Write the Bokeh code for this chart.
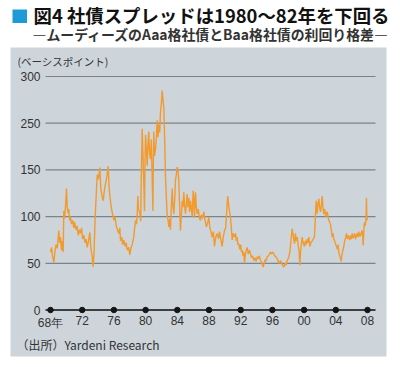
from bokeh.plotting import figure
from bokeh.models import Range1d, Label, ColumnDataSource
from bokeh.core.properties import value
from bokeh.embed import file_html
from bokeh.resources import INLINE

# ---- data ----
years = [
    1968.00, 1968.13, 1968.25, 1968.42, 1968.55, 1968.70, 1968.85, 1969.05, 1969.15, 1969.26,
    1969.38, 1969.50, 1969.60, 1969.68, 1969.78, 1969.90, 1970.02, 1970.10, 1970.20, 1970.30,
    1970.42, 1970.52, 1970.65, 1970.80, 1970.94, 1971.05, 1971.20, 1971.35, 1971.50, 1971.65,
    1971.79, 1971.92, 1972.05, 1972.20, 1972.35, 1972.50, 1972.63, 1972.80, 1972.96, 1973.10,
    1973.26, 1973.38, 1973.50, 1973.62, 1973.75, 1973.90, 1974.05, 1974.22, 1974.35, 1974.50,
    1974.65, 1974.80, 1974.94, 1975.10, 1975.28, 1975.40, 1975.55, 1975.66, 1975.80, 1976.00,
    1976.15, 1976.30, 1976.45, 1976.62, 1976.75, 1976.83, 1977.00, 1977.10, 1977.25, 1977.40,
    1977.55, 1977.68, 1977.88, 1978.00, 1978.15, 1978.30, 1978.51, 1978.60, 1978.73, 1978.85,
    1978.94, 1979.02, 1979.10, 1979.27, 1979.38, 1979.45, 1979.57, 1979.67, 1979.77, 1979.86,
    1979.93, 1979.99, 1980.10, 1980.20, 1980.30, 1980.40, 1980.50, 1980.62, 1980.72, 1980.83,
    1980.92, 1980.98, 1981.03, 1981.12, 1981.25, 1981.35, 1981.46, 1981.56, 1981.67, 1981.78,
    1981.88, 1981.98, 1982.09, 1982.20, 1982.30, 1982.40, 1982.51, 1982.62, 1982.73, 1982.85,
    1982.93, 1983.05, 1983.14, 1983.25, 1983.36, 1983.46, 1983.56, 1983.67, 1983.77, 1983.88,
    1983.98, 1984.10, 1984.19, 1984.30, 1984.40, 1984.50, 1984.62, 1984.72, 1984.82, 1984.92,
    1985.03, 1985.15, 1985.25, 1985.35, 1985.45, 1985.55, 1985.67, 1985.78, 1985.88, 1986.00,
    1986.08, 1986.17, 1986.30, 1986.40, 1986.51, 1986.65, 1986.80, 1986.93, 1987.05, 1987.20,
    1987.35, 1987.50, 1987.68, 1987.85, 1987.98, 1988.10, 1988.25, 1988.40, 1988.55, 1988.69,
    1988.85, 1989.03, 1989.20, 1989.32, 1989.45, 1989.56, 1989.66, 1989.80, 1989.96, 1990.10,
    1990.20, 1990.30, 1990.37, 1990.48, 1990.60, 1990.71, 1990.82, 1990.93, 1991.05, 1991.20,
    1991.34, 1991.45, 1991.55, 1991.65, 1991.76, 1991.88, 1992.00, 1992.10, 1992.19, 1992.30,
    1992.40, 1992.48, 1992.60, 1992.70, 1992.82, 1992.95, 1993.10, 1993.24, 1993.35, 1993.50,
    1993.65, 1993.80, 1993.95, 1994.08, 1994.20, 1994.35, 1994.50, 1994.65, 1994.84, 1994.95,
    1995.10, 1995.20, 1995.34, 1995.50, 1995.65, 1995.76, 1995.90, 1996.05, 1996.18, 1996.30,
    1996.45, 1996.60, 1996.75, 1996.90, 1997.02, 1997.15, 1997.30, 1997.44, 1997.60, 1997.75,
    1997.87, 1998.00, 1998.07, 1998.20, 1998.35, 1998.50, 1998.62, 1998.79, 1998.90, 1999.00,
    1999.13, 1999.25, 1999.38, 1999.46, 1999.55, 1999.65, 1999.76, 1999.88, 2000.05, 2000.15,
    2000.25, 2000.39, 2000.50, 2000.60, 2000.72, 2000.85, 2001.02, 2001.15, 2001.31, 2001.42,
    2001.52, 2001.60, 2001.65, 2001.75, 2001.86, 2001.96, 2002.07, 2002.18, 2002.28, 2002.38,
    2002.49, 2002.60, 2002.72, 2002.82, 2002.91, 2003.02, 2003.12, 2003.22, 2003.33, 2003.45,
    2003.55, 2003.65, 2003.75, 2003.85, 2003.96, 2004.10, 2004.20, 2004.30, 2004.38, 2004.50,
    2004.60, 2004.68, 2004.80, 2004.90, 2005.01, 2005.12, 2005.25, 2005.35, 2005.45, 2005.55,
    2005.64, 2005.75, 2005.86, 2005.95, 2006.07, 2006.17, 2006.27, 2006.38, 2006.50, 2006.60,
    2006.70, 2006.80, 2006.90, 2007.00, 2007.12, 2007.22, 2007.33, 2007.40, 2007.46, 2007.55,
    2007.62, 2007.70, 2007.75, 2007.82, 2007.87, 2007.92, 2007.96,
]
spread_bp = [
    62, 67, 58, 51, 62, 70, 66, 85, 72, 78,
    64, 74, 62, 106, 98, 112, 130, 112, 104, 108,
    96, 100, 92, 96, 88, 94, 86, 90, 80, 86,
    82, 88, 76, 80, 72, 76, 67, 74, 83, 66,
    57, 46, 62, 96, 120, 145, 140, 155, 130, 122,
    117, 128, 135, 142, 158, 130, 118, 110, 104, 96,
    100, 90, 86, 82, 88, 74, 78, 70, 75, 68,
    72, 64, 67, 59, 66, 70, 78, 86, 96, 92,
    101, 122, 108, 104, 95, 140, 238, 180, 136, 106,
    170, 225, 195, 159, 205, 232, 185, 173, 215, 140,
    106, 170, 232, 180, 195, 215, 253, 220, 247, 230,
    262, 270, 285, 275, 266, 220, 143, 120, 101, 95,
    89, 98, 86, 112, 130, 110, 103, 118, 139, 145,
    156, 148, 139, 110, 85, 100, 117, 110, 126, 112,
    103, 115, 124, 110, 120, 105, 117, 108, 100, 128,
    121, 99, 126, 110, 103, 108, 98, 96, 102, 98,
    105, 96, 89, 94, 99, 88, 84, 78, 84, 68,
    78, 82, 76, 84, 78, 72, 68, 78, 85, 88,
    100, 115, 122, 112, 105, 99, 88, 75, 82, 78,
    82, 74, 78, 70, 71, 65, 70, 62, 64, 58,
    62, 50, 60, 64, 67, 60, 64, 60, 56, 58,
    53, 56, 52, 57, 55, 58, 53, 50, 46, 50,
    54, 52, 57, 58, 60, 62, 60, 62, 60, 58,
    57, 55, 52, 50, 53, 50, 48, 46, 50, 48,
    53, 55, 57, 62, 75, 87, 80, 71, 82, 74,
    78, 70, 62, 48, 62, 70, 78, 72, 68, 74,
    70, 76, 72, 78, 68, 72, 74, 76, 78, 100,
    117, 108, 103, 114, 119, 110, 105, 112, 122, 110,
    103, 108, 100, 104, 105, 100, 96, 94, 92, 85,
    78, 82, 76, 74, 71, 68, 65, 70, 62, 58,
    55, 52, 60, 64, 68, 74, 78, 82, 76, 80,
    78, 75, 80, 76, 82, 77, 78, 82, 76, 80,
    82, 78, 84, 79, 80, 83, 85, 78, 69, 88,
    94, 90, 92, 100, 120, 100, 96,
]
y_tick_values = [0, 50, 100, 150, 250, 300]
y_tick_labels = ["0", "50", "100", "150", "250", "300"]
x_tick_years = [1968, 1972, 1976, 1980, 1984, 1988, 1992, 1996, 2000, 2004, 2008]
x_tick_labels = ["68年", "72", "76", "80", "84", "88", "92", "96", "00", "04", "08"]

title_text = "図4 社債スプレッドは1980～82年を下回る"
subtitle_text = "―ムーディーズのAaa格社債とBaa格社債の利回り格差―"
unit_text = "(ベーシスポイント)"
source_text = "（出所）Yardeni Research"


# Broken value axis: the 150 -> 250 span takes the height of one 50bp step.
def squash(v):
    if v <= 150:
        return v
    if v <= 250:
        return 150 + (v - 150) / 2.0
    return 200 + (v - 250)


GRAY = "#cdd5db"
ORANGE = "#f29a2e"
FONT_JP = "Noto Sans CJK JP"
FONT_NUM = "Liberation Sans"

W, H = 392, 359
PX_PER_YEAR = 7.925
PX_PER_UNIT = 0.934
X0 = 1968 - 50 / PX_PER_YEAR
X1 = X0 + W / PX_PER_YEAR
Y1 = 309.5 / PX_PER_UNIT
Y0 = (309.5 - H) / PX_PER_UNIT


# helpers to place decorations by canvas pixel
def xpx(px):
    return X0 + px / PX_PER_YEAR


def ypx(py):
    return (309.5 - py) / PX_PER_UNIT


p = figure(width=W, height=H, x_range=Range1d(X0, X1), y_range=Range1d(Y0, Y1),
           output_backend="svg", toolbar_location=None, min_border=0,
           x_axis_type=None, y_axis_type=None, outline_line_color=None,
           background_fill_color="white", border_fill_color="white")
p.grid.visible = False

# gray panel
p.quad(left=[xpx(10)], right=[xpx(386)], top=[ypx(47)], bottom=[ypx(356)],
       color=GRAY, line_color=None)

# heading
p.quad(left=[xpx(12)], right=[xpx(26.5)], top=[ypx(9)], bottom=[ypx(22.5)],
       color="#1e9bd7", line_color=None)
p.add_layout(Label(x=xpx(33), y=ypx(14), text=title_text, text_font=FONT_JP,
                   text_font_style="bold", text_font_size="18.4px", text_color="#111111",
                   text_baseline="middle"))
p.add_layout(Label(x=xpx(32), y=ypx(33), text=subtitle_text, text_font=FONT_JP,
                   text_font_style="bold", text_font_size="13.9px", text_color="#333333",
                   text_baseline="middle"))

# plot area extent
xa, xb = xpx(45), xpx(375)

# grid lines
ypos = [squash(v) for v in y_tick_values]
p.segment(x0=[xa] * 5, x1=[xb] * 5, y0=ypos[1:], y1=ypos[1:],
          line_color="#7b848b", line_width=1.2)

# y tick labels
p.text(x=[xpx(40)] * len(ypos), y=ypos, text=y_tick_labels,
       text_font=value(FONT_NUM), text_font_size="12px", text_color="#333333",
       text_align="right", text_baseline="middle")

# zero axis line with dots at ticks
p.segment(x0=[xa], x1=[xb], y0=[0], y1=[0], line_color="#3c3f42", line_width=2)
p.scatter(x_tick_years, [0] * len(x_tick_years), size=5.5, color="#151515")

# x tick labels
p.text(x=x_tick_years, y=[ypx(315)] * len(x_tick_years), text=x_tick_labels,
       text_font=value(FONT_NUM), text_font_size="12px", text_color="#333333",
       text_align="center", text_baseline="top")

# series
src = ColumnDataSource(dict(x=years, y=[squash(v) for v in spread_bp]))
p.line("x", "y", source=src, line_color=ORANGE, line_width=1.4)

# unit & source
p.add_layout(Label(x=xpx(17), y=ypx(61), text=unit_text, text_font=FONT_JP,
                   text_font_size="10.5px", text_color="#333333", text_baseline="middle"))
p.add_layout(Label(x=xpx(16), y=ypx(344), text=source_text, text_font=FONT_JP,
                   text_font_size="12px", text_color="#333333", text_baseline="middle"))

with open("out.html", "w") as f:
    f.write(file_html(p, INLINE))
